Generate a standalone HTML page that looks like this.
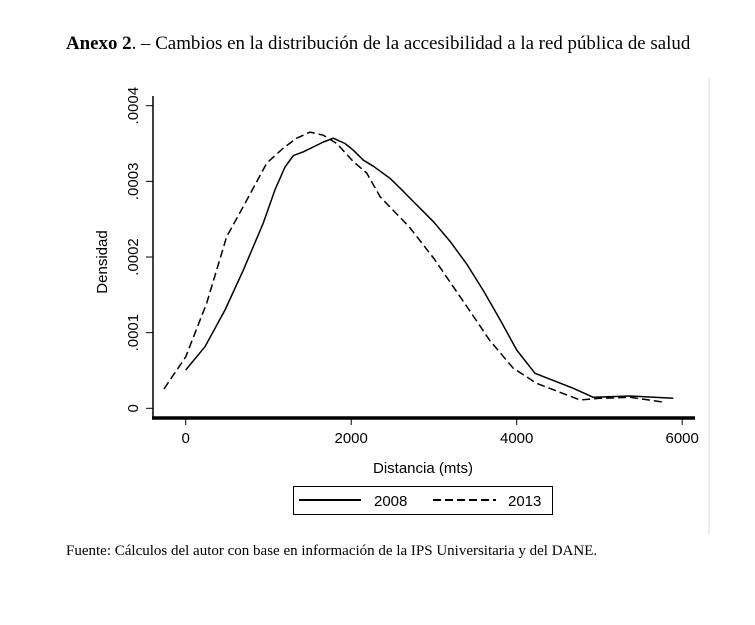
<!DOCTYPE html>
<html><head><meta charset="utf-8"><style>
body{margin:0;background:#fff;width:755px;height:625px;overflow:hidden;position:relative;font-family:"Liberation Serif",serif}
.t{position:absolute;left:66px;top:33px;font-size:18.9px;color:#000;white-space:nowrap}
.f{position:absolute;left:66px;top:543px;font-size:15px;white-space:nowrap}
</style></head><body>
<div class="t"><b>Anexo 2</b>. – Cambios en la distribución de la accesibilidad a la red pública de salud</div>
<svg width="755" height="625" style="position:absolute;left:0;top:0" font-family="Liberation Sans, sans-serif">
<line x1="709" y1="78" x2="709" y2="535" stroke="#e6e6e6" stroke-width="1.5"/>
<g id="axes"></g><g id="plot"></g>
<text x="423" y="473" font-size="15" text-anchor="middle">Distancia (mts)</text>
<text transform="translate(107,262) rotate(-90)" font-size="15" text-anchor="middle">Densidad</text>
<g>
<rect x="293.5" y="486.5" width="259" height="28" fill="none" stroke="#000" stroke-width="1"/>
<line x1="299" y1="500" x2="361" y2="500" stroke="#000" stroke-width="2"/>
<text x="374" y="506" font-size="15">2008</text>
<line x1="433" y1="500" x2="496" y2="500" stroke="#000" stroke-width="2" stroke-dasharray="8,4"/>
<text x="508" y="506" font-size="15">2013</text>
</g>
</svg>
<div class="f">Fuente: Cálculos del autor con base en información de la IPS Universitaria y del DANE.</div>
<script>
const xTicks=[0,2000,4000,6000];
const yTicks=[0,0.0001,0.0002,0.0003,0.0004];
const yTickLabels=["0",".0001",".0002",".0003",".0004"];
const x2008=[0,233,475,697,938,1079,1200,1301,1422,1664,1784,1925,2026,2147,2267,2469,2600,2800,3000,3200,3400,3600,3800,4000,4221,4684,4926,5369,5893];
const y2008=[0.0000506,0.0000814,0.00013,0.000183,0.000245,0.000289,0.000319,0.000334,0.000339,0.000352,0.000357,0.00035,0.000341,0.000328,0.00032,0.000304,0.00029,0.000268,0.000246,0.00022,0.00019,0.000155,0.000117,0.000077,0.0000463,0.0000264,0.0000145,0.0000163,0.0000132];
const x2013=[-262,0,254,495,737,979,1180,1341,1502,1663,1825,2026,2187,2348,2469,2700,3000,3300,3500,3673,3959,4241,4765,5006,5369,5792];
const y2013=[0.0000256,0.000068,0.000139,0.000227,0.000275,0.000324,0.000344,0.000357,0.000365,0.000361,0.00035,0.000326,0.000311,0.00028,0.000266,0.00024,0.000198,0.00015,0.000118,0.00009,0.0000529,0.000033,0.000011,0.0000132,0.0000145,0.0000079];
const sx=v=>185.7+v*0.08275, sy=v=>408.3-v*756500;
const NS="http://www.w3.org/2000/svg";
function mk(t,a,p){const e=document.createElementNS(NS,t);for(const k in a)e.setAttribute(k,a[k]);p.appendChild(e);return e;}
const ax=document.getElementById('axes'), pl=document.getElementById('plot');
let l=mk('line',{x1:153,y1:96,x2:153,y2:418,stroke:'#000','stroke-width':1.5},ax);


l=mk('line',{x1:152,y1:418,x2:695,y2:418,stroke:'#000','stroke-width':3.5},ax);


xTicks.forEach(v=>{mk('line',{x1:sx(v),y1:419,x2:sx(v),y2:425,stroke:'#000','stroke-width':1},ax);
const t=mk('text',{x:sx(v),y:443,'font-size':15,'text-anchor':'middle'},ax);t.textContent=v;

});
yTicks.forEach((v,i)=>{mk('line',{x1:146,y1:sy(v),x2:153,y2:sy(v),stroke:'#000','stroke-width':1},ax);
const t=mk('text',{transform:`translate(138,${sy(v)}) rotate(-90)`,'font-size':15,'text-anchor':'middle'},ax);t.textContent=yTickLabels[i];

});
function path(xs,ys){return xs.map((x,i)=>(i?'L':'M')+sx(x).toFixed(1)+','+sy(ys[i]).toFixed(1)).join('');}
let p=mk('path',{d:path(x2008,y2008),fill:'none',stroke:'#000','stroke-width':1.5,'stroke-linejoin':'round'},pl);


p=mk('path',{d:path(x2013,y2013),fill:'none',stroke:'#000','stroke-width':1.5,'stroke-dasharray':'8,4'},pl);


</script>
</body></html>
